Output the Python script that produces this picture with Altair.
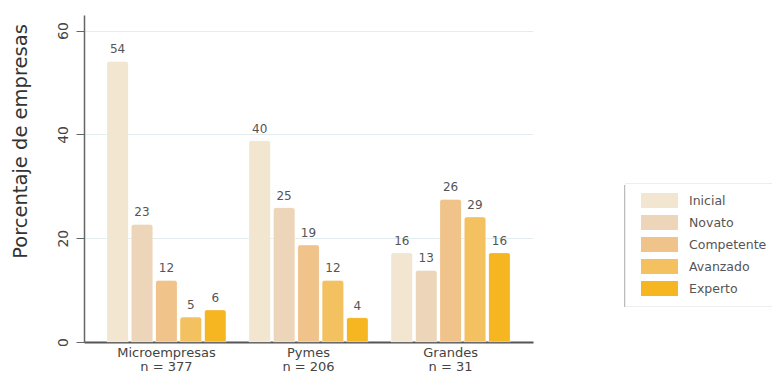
import altair as alt
import pandas as pd

grupos = ["Microempresas", "Pymes", "Grandes"]
n_grupo = [377, 206, 31]
niveles = ["Inicial", "Novato", "Competente", "Avanzado", "Experto"]
colores = ["#F3E6D0", "#EDD5B9", "#F0C38A", "#F3C160", "#F5B622"]

# bar heights as drawn
alturas = {
    "Microempresas": [54.1, 22.7, 11.9, 4.8, 6.2],
    "Pymes": [38.8, 25.9, 18.7, 11.9, 4.7],
    "Grandes": [17.2, 13.8, 27.5, 24.1, 17.2],
}
# printed labels
etiquetas = {
    "Microempresas": [54, 23, 12, 5, 6],
    "Pymes": [40, 25, 19, 12, 4],
    "Grandes": [16, 13, 26, 29, 16],
}

rows = []
for g in grupos:
    for i, nv in enumerate(niveles):
        rows.append({"grupo": g, "nivel": nv, "orden": i,
                     "valor": alturas[g][i], "etiqueta": str(etiquetas[g][i])})
df = pd.DataFrame(rows)

n_map = "{" + ",".join(f"'{g}':'n = {n}'" for g, n in zip(grupos, n_grupo)) + "}"
label_expr = f"[datum.label, {n_map}[datum.label]]"

FONT = "DejaVu Sans"

x_enc = alt.X("grupo:N", sort=grupos, title=None,
              scale=alt.Scale(paddingInner=0.16, paddingOuter=0.16),
              axis=alt.Axis(labelExpr=label_expr, labelAngle=0, ticks=False,
                            domainColor="#555555", domainWidth=2,
                            labelFont=FONT, labelFontSize=13, labelColor="#444444",
                            labelLineHeight=14, labelPadding=4, grid=False))
xoff = alt.XOffset("nivel:N", sort=niveles, scale=alt.Scale(paddingInner=0.11, paddingOuter=0))

base = alt.Chart(df)

bars = base.mark_bar(cornerRadiusTopLeft=3, cornerRadiusTopRight=3,
                     stroke="#ffffff", strokeOpacity=0.5, strokeWidth=0.5).encode(
    x=x_enc,
    xOffset=xoff,
    y=alt.Y("valor:Q", title="Porcentaje de empresas",
            scale=alt.Scale(domain=[0, 63], nice=False),
            axis=alt.Axis(values=[0, 20, 40, 60], labelAngle=270,
                          labelAlign="center", labelBaseline="bottom",
                          labelFont=FONT, labelFontSize=14, labelColor="#444444",
                          labelPadding=6, tickSize=8, tickColor="#666666",
                          domainColor="#666666", domainWidth=1.5,
                          gridColor="#E3EDF0", gridWidth=1,
                          titleFont=FONT, titleFontSize=19.5, titleFontWeight="normal",
                          titleColor="#333333", titleAngle=270,
                          titleX=-64, titleY=126, titleAlign="center",
                          titleBaseline="middle")),
    color=alt.Color("nivel:N", sort=niveles,
                    scale=alt.Scale(domain=niveles, range=colores),
                    legend=alt.Legend(title=None, orient="none", legendX=541, legendY=168,
                                      symbolType="M-0.2,-1L4.73,-1L4.73,1L-0.2,1Z",
                                      symbolSize=225, symbolStrokeWidth=0,
                                      labelFont=FONT, labelFontSize=12.5,
                                      labelColor="#555555", labelOffset=39,
                                      rowPadding=7, padding=10,
                                      strokeColor="#EEEEEE", fillColor="#FFFFFF")),
)

labels = base.mark_text(baseline="bottom", dy=-5, font=FONT, fontSize=12,
                        color="#555555").encode(
    x=alt.X("grupo:N", sort=grupos),
    xOffset=xoff,
    y="valor:Q",
    text="etiqueta:N",
)

leg_border = alt.Chart(pd.DataFrame({"a": [0]})).mark_rule(
    color="#BBBBBB", strokeWidth=2).encode(
    x=alt.value(541), y=alt.value(170), y2=alt.value(292))

chart = alt.layer(bars, labels, leg_border).properties(
    width=449, height=327, autosize="none",
    padding={"left": 84, "top": 15, "right": 239, "bottom": 30},
).configure_view(stroke=None).configure_axis(labelFont=FONT)

chart.save("out.html", embed_options={"renderer": "svg", "actions": False})
